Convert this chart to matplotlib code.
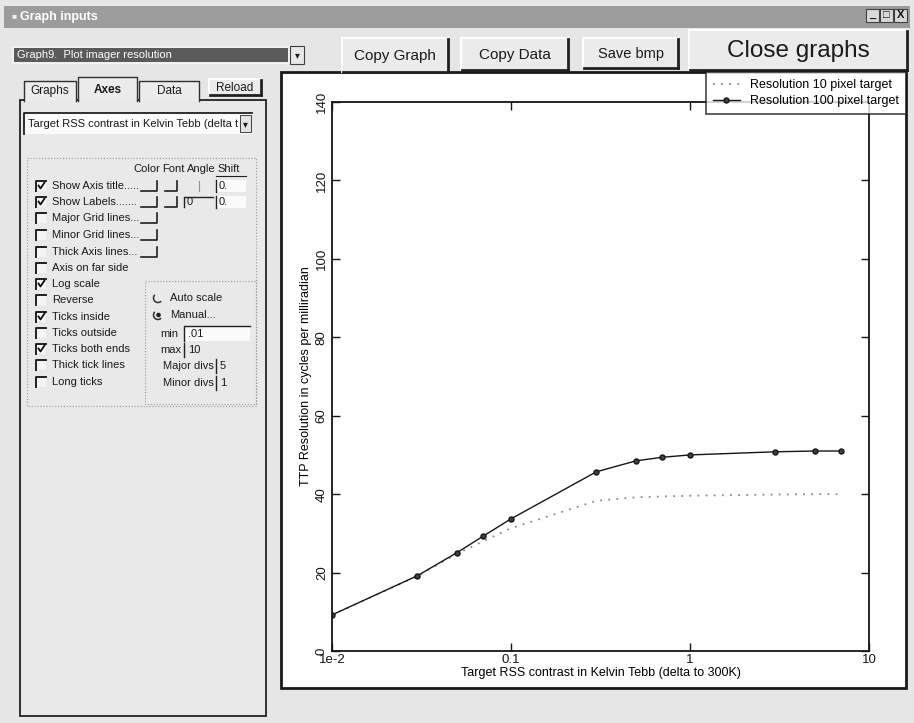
import matplotlib
matplotlib.use("Agg")
import matplotlib.pyplot as plt
from matplotlib.patches import Rectangle, Circle, Arc
from matplotlib.lines import Line2D
from matplotlib.ticker import FixedLocator, FixedFormatter, NullLocator

# ---- data -----------------------------------------------------------------
contrast = [0.01, 0.03, 0.05, 0.07, 0.1, 0.3, 0.5, 0.7, 1, 3, 5, 7]
res_10px = [9.2, 19.1, 24.8, 28.0, 31.3, 38.3, 39.2, 39.4, 39.6, 39.9, 40.0, 40.0]
res_100px = [9.2, 19.2, 25.1, 29.3, 33.7, 45.7, 48.5, 49.4, 50.0, 50.8, 51.0, 51.0]
series_names = ["Resolution 10 pixel target", "Resolution 100 pixel target"]
x_ticks = [0.01, 0.1, 1, 10]
x_tick_labels = ["1e-2", "0.1", "1", "10"]
y_ticks = [0, 20, 40, 60, 80, 100, 120, 140]
x_title = "Target RSS contrast in Kelvin Tebb (delta to 300K)"
y_title = "TTP Resolution in cycles per milliradian"

FONT = ["Liberation Sans", "DejaVu Sans"]
plt.rcParams["font.family"] = FONT

W, H = 914, 723
fig = plt.figure(figsize=(W / 100, H / 100), dpi=100)
fig.patch.set_facecolor("#e6e6e6")

# Window chrome drawn in pixel coordinates (origin top-left)
ui = fig.add_axes([0, 0, 1, 1])
ui.set_xlim(0, W)
ui.set_ylim(H, 0)
ui.axis("off")

DARK = "#303030"


def rect(x0, y0, x1, y1, fc="none", ec="none", lw=1.0, z=1, ls="-"):
    ui.add_patch(Rectangle((x0, y0), x1 - x0, y1 - y0, facecolor=fc,
                           edgecolor=ec, lw=lw, zorder=z, linestyle=ls))


def line(xs, ys, c=DARK, lw=1.0, z=2):
    ui.add_line(Line2D(xs, ys, color=c, lw=lw, zorder=z))


def txt(x, y, s, size=8.5, ha="left", va="center", color="#1a1a1a",
        weight="normal", z=3):
    ui.text(x, y, s, fontsize=size, ha=ha, va=va, color=color,
            fontweight=weight, zorder=z, family=FONT)


def button(x0, y0, x1, y1, label, size=11):
    rect(x0, y0, x1, y1, fc="#ebebeb", z=1)
    line([x0, x1], [y0, y0], c="#ffffff", lw=1.5)
    line([x0, x0], [y0, y1], c="#ffffff", lw=1.5)
    line([x0 + 1, x1], [y1, y1], c="#202020", lw=2.0)
    line([x1, x1], [y0 + 1, y1], c="#202020", lw=2.0)
    txt((x0 + x1) / 2, (y0 + y1) / 2 + 1, label, size=size, ha="center")


def checkbox(x, y, checked):
    rect(x, y - 5, x + 10, y + 5, fc="#f4f4f4", z=1)
    line([x, x, x + 10], [y + 5, y - 5, y - 5], c="#202020", lw=1.4)
    if checked:
        line([x + 2.5, x + 4.5, x + 8.5], [y - 0.5, y + 2.5, y - 3.5],
             c="#101010", lw=1.3)


def small_box(x0, x1, y):
    # tiny colour / font picker button
    line([x0, x1, x1], [y + 5, y + 5, y - 5], c="#202020", lw=1.2)


# title bar
rect(4, 6, 910, 28, fc="#9c9c9c", z=1)
txt(11, 17, "\u25a0", size=6, color="#f0f0f0")
txt(20, 17, "Graph inputs", size=9, color="#ffffff", weight="bold")
for i, s in enumerate(["_", "\u25a1", "X"]):
    bx = 866 + i * 14
    rect(bx, 9, bx + 13, 22, fc="#d8d8d8", ec="#404040", lw=0.8, z=2)
    txt(bx + 6.5, 15.5, s, size=8, ha="center", color="#101010", weight="bold")

# graph selector
rect(12, 46, 290, 64, fc="#f2f2f2", z=1)
rect(14, 48, 288, 62, fc="#5a5a5a", z=1)
txt(17, 55, "Graph9.  Plot imager resolution", size=8, color="#ffffff")
rect(290, 46, 304, 64, fc="#e8e8e8", ec="#404040", lw=0.8, z=1)
txt(297, 55, "\u25be", size=7, ha="center")

button(342, 38, 448, 72, "Copy Graph", size=11)
button(461, 38, 568, 70, "Copy Data", size=11)
button(583, 38, 678, 68, "Save bmp", size=10.5)
button(689, 30, 907, 70, "Close graphs", size=17.5)

# ---- left control panel ------------------------------------------------------
rect(20, 100, 266, 716, fc="#e9e9e9", ec="#222222", lw=1.3, z=0.5)
for (x0, x1, lab, bold) in [(24, 76, "Graphs", False), (78, 137, "Axes", True),
                            (139, 199, "Data", False)]:
    top = 77 if bold else 81
    rect(x0, top, x1, 101, fc="#ececec", z=0.6)
    line([x0, x0, x1, x1], [101, top, top, 101], c="#303030", lw=1.0)
    txt((x0 + x1) / 2, 90 if bold else 91, lab, size=8.5, ha="center",
        weight="bold" if bold else "normal")
rect(78.5, 99, 136.5, 102, fc="#e9e9e9", z=0.7)
button(209, 79, 261, 95, "Reload", size=8.5)

rect(24, 113, 252, 134, fc="#fbfbfb", z=1)
line([24, 24, 252], [134, 113, 113], c="#202020", lw=1.3)
txt(28, 124, "Target RSS contrast in Kelvin Tebb (delta t", size=8)
rect(240, 115, 251, 132, fc="#e4e4e4", ec="#404040", lw=0.7, z=2)
txt(245.5, 124, "\u25be", size=7, ha="center")

rect(27, 158, 256, 406, ec="#9a9a9a", lw=0.8, ls=":", z=1)
txt(133, 169, "Color", size=8)
txt(162, 169, "Font", size=8)
txt(187, 169, "Angle", size=8)
txt(217, 169, "Shift", size=8)
line([216, 246], [176, 176], c="#202020", lw=0.8)

rows = [
    ("Show Axis title.....", True), ("Show Labels.......", True),
    ("Major Grid lines...", False), ("Minor Grid lines...", False),
    ("Thick Axis lines...", False), ("Axis on far side", False),
    ("Log scale", True), ("Reverse", False), ("Ticks inside", True),
    ("Ticks outside", False), ("Ticks both ends", True),
    ("Thick tick lines", False), ("Long ticks", False),
]
row_y = [186, 202, 218, 235, 252, 268, 284, 300, 317, 333, 349, 365, 382]
for (lab, chk), y in zip(rows, row_y):
    checkbox(36, y, chk)
    txt(52, y, lab, size=8)
for y in row_y[:5]:
    small_box(141, 157, y)
for y in row_y[:2]:
    small_box(165, 177, y)
line([199, 199], [181, 191], c="#909090", lw=0.8)
line([184, 184, 213], [207, 197, 197], c="#202020", lw=1.0)
txt(187, 202, "0", size=8)
for y in row_y[:2]:
    rect(216, y - 6, 246, y + 6, fc="#fbfbfb", z=1)
    line([216, 216], [y - 6, y + 6], c="#202020", lw=1.0)
    txt(219, y, "0.", size=8)

rect(145, 281, 256, 404, ec="#9a9a9a", lw=0.8, ls=":", z=1)
ui.add_patch(Arc((158, 298), 9, 9, theta1=45, theta2=225, color="#303030",
                 lw=1.1, zorder=2))
txt(170, 298, "Auto scale", size=8)
ui.add_patch(Arc((158, 315), 9, 9, theta1=45, theta2=225, color="#303030",
                 lw=1.1, zorder=2))
ui.add_patch(Circle((158.5, 315), 1.6, color="#202020", zorder=3))
txt(170, 315, "Manual...", size=8)
txt(160, 334, "min", size=8)
rect(184, 326, 250, 341, fc="#fbfbfb", z=1)
line([184, 184, 250], [341, 326, 326], c="#202020", lw=1.0)
txt(188, 334, ".01", size=8)
txt(160, 350, "max", size=8)
line([184, 184], [343, 357], c="#202020", lw=1.0)
txt(188, 350, "10", size=8)
txt(163, 366, "Major divs", size=8)
line([216, 216], [359, 373], c="#202020", lw=1.0)
txt(220, 366, "5", size=8)
txt(163, 383, "Minor divs", size=8)
line([216, 216], [376, 390], c="#202020", lw=1.0)
txt(220, 383, "1", size=8)

# ---- chart panel -------------------------------------------------------------
rect(281, 72, 906, 688, fc="#ffffff", ec="#1a1a1a", lw=2.0, z=0.8)

ax_l, ax_r, ax_t, ax_b = 332, 869, 102, 651
ax = fig.add_axes([ax_l / W, 1 - ax_b / H, (ax_r - ax_l) / W, (ax_b - ax_t) / H])
ax.set_facecolor("none")
ax.set_xscale("log")
ax.set_xlim(x_ticks[0], x_ticks[-1])
ax.set_ylim(y_ticks[0], y_ticks[-1])

ax.plot(contrast, res_10px, color="#8a8a8a", lw=1.3, linestyle=(0, (1, 3.5)),
        label=series_names[0])
ax.plot(contrast, res_100px, color="#151515", lw=1.0, marker="o",
        markersize=3.6, markerfacecolor="#404040", markeredgecolor="#151515",
        label=series_names[1])

ax.xaxis.set_major_locator(FixedLocator(x_ticks))
ax.xaxis.set_major_formatter(FixedFormatter(x_tick_labels))
ax.xaxis.set_minor_locator(NullLocator())
ax.set_yticks(y_ticks)
ax.tick_params(axis="both", which="major", direction="in", length=6,
               width=1.0, top=True, right=True, colors="#151515",
               labelsize=9.5)
ax.tick_params(axis="x", pad=2)
ax.tick_params(axis="y", pad=3)
for lab in ax.get_yticklabels():
    lab.set_rotation(90)
    lab.set_va("center")
for s in ax.spines.values():
    s.set_linewidth(1.3)
    s.set_color("#151515")

ax.set_xlabel(x_title, fontsize=9, labelpad=1)
ax.set_ylabel(y_title, fontsize=9, labelpad=3)

leg = ax.legend(loc="upper right", bbox_to_anchor=(906 / W, 1 - 72 / H),
                bbox_transform=fig.transFigure, frameon=True, fancybox=False,
                fontsize=9, handlelength=2.2, handletextpad=0.8,
                borderpad=0.55, labelspacing=0.35, borderaxespad=0)
leg.get_frame().set_edgecolor("#151515")
leg.get_frame().set_linewidth(1.2)

fig.savefig("out.png", dpi=100, facecolor=fig.get_facecolor())
